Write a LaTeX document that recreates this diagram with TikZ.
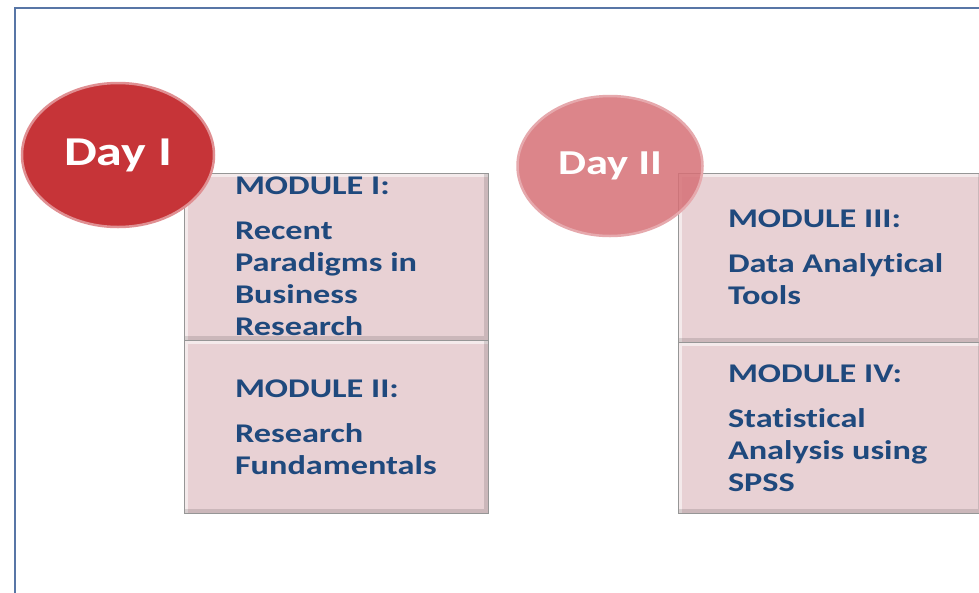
\documentclass[tikz,border=0pt]{standalone}
\usepackage{fontspec}
\setmainfont{Carlito}[FakeStretch=1.27, Ligatures=CommonOff]
\usetikzlibrary{shapes.geometric, positioning}
\definecolor{frameblue}{RGB}{88,118,166}
\definecolor{dayred}{RGB}{198,52,56}
\definecolor{daypink}{RGB}{214,112,118}
\definecolor{boxpink}{RGB}{232,209,212}
\definecolor{boxline}{RGB}{150,150,150}
\definecolor{textblue}{RGB}{31,73,125}
\tikzset{
	x=1pt, y=-1pt,
	day/.style={ellipse, inner sep=0pt, text=white, font=\bfseries},
	module/.style={draw=boxline, fill=boxpink, minimum width=304pt, inner sep=0pt,
		path picture={
			\draw[white, opacity=.55, line width=8pt]
				(path picture bounding box.south west) -- (path picture bounding box.north west)
				-- (path picture bounding box.north east);
			\draw[black, opacity=.12, line width=8pt]
				(path picture bounding box.north east) -- (path picture bounding box.south east)
				-- (path picture bounding box.south west);
		}},
	modtext/.style={anchor=west, align=left, text=textblue, inner sep=0pt,
		font=\fontsize{27}{32}\selectfont\bfseries}
}

\begin{document}
\begin{tikzpicture}
		
		\clip (0,0) rectangle (979,592);
		\fill[white] (0,0) rectangle (979,592);
		\draw[frameblue, line width=2pt] (15,8) rectangle (1010,620);
		
		% day one
		\node[module, minimum height=167pt] (mod1) at (336,256.5) {};
		\node[module, minimum height=173pt, below=0pt of mod1] (mod2) {};
		\node[modtext] (txt1) at ([xshift=51pt]mod1.west) {MODULE I:\\[13pt] Recent\\ Paradigms in\\ Business\\ Research};
		\node[modtext] (txt2) at ([xshift=51pt]mod2.west) {MODULE II:\\[13pt] Research\\ Fundamentals};
		\node[day, fill=dayred, draw=dayred!55!white, line width=2.5pt,
			minimum width=192pt, minimum height=144pt, font=\fontsize{41}{41}\selectfont\bfseries] (day1) at (118,155) {Day I};
		
		% day two
		\node[module, minimum height=169pt] (mod3) at (830,257.5) {};
		\node[module, minimum height=171pt, below=0pt of mod3] (mod4) {};
		\node[modtext] (txt3) at ([xshift=50pt]mod3.west) {MODULE III:\\[13pt] Data Analytical\\ Tools};
		\node[modtext] (txt4) at ([xshift=50pt]mod4.west) {MODULE IV:\\[13pt] Statistical\\ Analysis using\\ SPSS};
		\node[day, fill=daypink, fill opacity=.85, text opacity=1, draw=daypink!60!white, line width=2.5pt,
			minimum width=185pt, minimum height=140pt, font=\fontsize{35}{35}\selectfont\bfseries] (day2) at (610,166) {Day II};
		
	\end{tikzpicture}
\end{document}
